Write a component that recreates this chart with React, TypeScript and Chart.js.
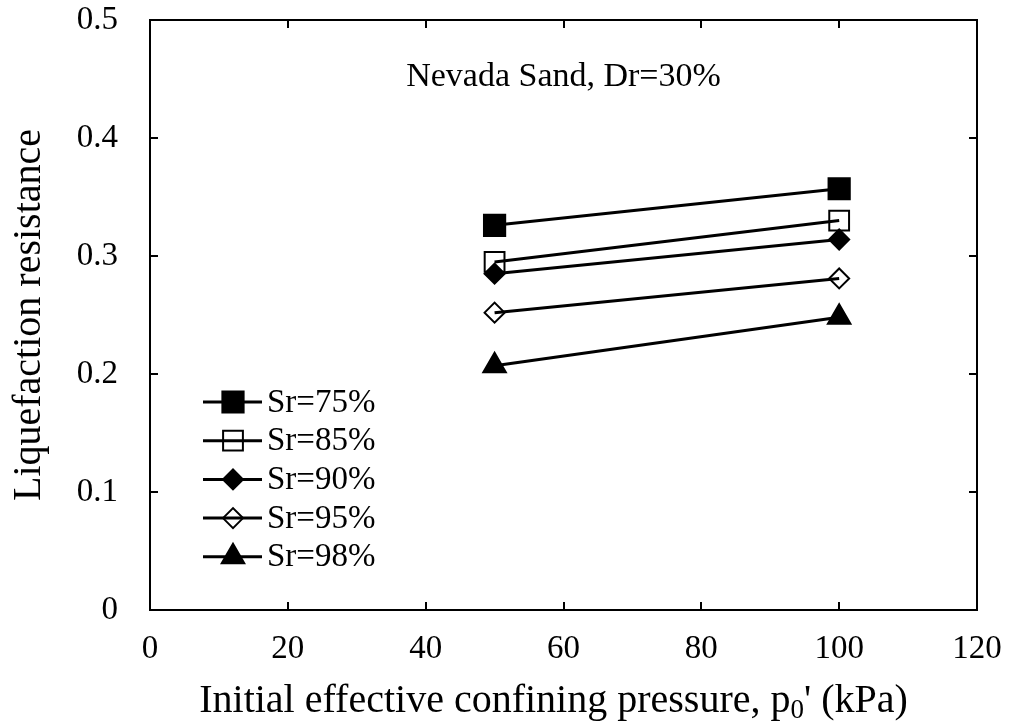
import React, { useEffect, useRef } from 'react';
import { Chart, registerables } from 'chart.js';
import { drawPoint } from 'chart.js/helpers';

Chart.register(...registerables);

// ---- data ----
const pressures = [50, 100];
const seriesLabels = ['Sr=75%', 'Sr=85%', 'Sr=90%', 'Sr=95%', 'Sr=98%'];
const sr75 = [0.326, 0.357];
const sr85 = [0.295, 0.33];
const sr90 = [0.285, 0.314];
const sr95 = [0.252, 0.281];
const sr98 = [0.207, 0.248];
const seriesValues = [sr75, sr85, sr90, sr95, sr98];
const xTickValues = [0, 20, 40, 60, 80, 100, 120];
const yTickValues = [0, 0.1, 0.2, 0.3, 0.4, 0.5];
const xTitleMain = 'Initial effective confining pressure, p';
const xTitleSub = '0';
const xTitleEnd = "' (kPa)";
const yTitle = 'Liquefaction resistance';
const annotationText = 'Nevada Sand, Dr=30%';

// ---- styles ----
const FONT = "'Liberation Serif', 'Times New Roman', serif";
const markerStyles = ['rect', 'rect', 'rectRot', 'rectRot', 'triangle'];
const markerFilled = [true, false, true, false, true];
const markerRadius = [15, 14, 10, 10, 13];

const framePlugin = {
  id: 'framePlugin',
  afterDraw(chart: any) {
    const { ctx, chartArea } = chart;
    const { left, right, top, bottom } = chartArea;
    const xs = chart.scales.x;
    const ys = chart.scales.y;
    ctx.save();
    ctx.strokeStyle = '#000';
    ctx.lineWidth = 2;
    ctx.strokeRect(left, top, right - left, bottom - top);
    const tl = 8;
    ctx.beginPath();
    ys.ticks.forEach((t: any) => {
      const py = Math.round(ys.getPixelForValue(t.value));
      ctx.moveTo(left, py);
      ctx.lineTo(left + tl, py);
      ctx.moveTo(right, py);
      ctx.lineTo(right - tl, py);
    });
    xs.ticks.forEach((t: any) => {
      const px = Math.round(xs.getPixelForValue(t.value));
      ctx.moveTo(px, bottom);
      ctx.lineTo(px, bottom - tl);
      ctx.moveTo(px, top);
      ctx.lineTo(px, top + tl);
    });
    ctx.stroke();

    // annotation
    ctx.fillStyle = '#000';
    ctx.font = `34px ${FONT}`;
    ctx.textAlign = 'center';
    ctx.textBaseline = 'alphabetic';
    ctx.fillText(annotationText, (left + right) / 2, top + 66);

    // x axis title with subscript
    const mainFont = `40px ${FONT}`;
    const subFont = `27px ${FONT}`;
    ctx.font = mainFont;
    const w1 = ctx.measureText(xTitleMain).width;
    const w3 = ctx.measureText(xTitleEnd).width;
    ctx.font = subFont;
    const w2 = ctx.measureText(xTitleSub).width;
    const total = w1 + w2 + w3;
    const cx = (left + right) / 2 - 10;
    let x = cx - total / 2;
    const base = bottom + 102;
    ctx.textAlign = 'left';
    ctx.textBaseline = 'alphabetic';
    ctx.font = mainFont;
    ctx.fillText(xTitleMain, x, base);
    x += w1;
    ctx.font = subFont;
    ctx.fillText(xTitleSub, x, base + 6);
    x += w2;
    ctx.font = mainFont;
    ctx.fillText(xTitleEnd, x, base);

    // legend
    const lx0 = left + 53;
    const lx1 = left + 112;
    const mx = left + 83;
    const ty = top + 382;
    const gap = 38.7;
    seriesLabels.forEach((lab, i) => {
      const y = ty + i * gap;
      ctx.strokeStyle = '#000';
      ctx.lineWidth = 3;
      ctx.beginPath();
      ctx.moveTo(lx0, y);
      ctx.lineTo(lx1, y);
      ctx.stroke();
      ctx.lineWidth = 2;
      ctx.fillStyle = markerFilled[i] ? '#000' : 'rgba(255,255,255,0)';
      drawPoint(ctx, { pointStyle: markerStyles[i], rotation: 0, radius: markerRadius[i], borderWidth: 2 } as any, mx, y);
      ctx.fillStyle = '#000';
      ctx.font = `33px ${FONT}`;
      ctx.textAlign = 'left';
      ctx.textBaseline = 'middle';
      ctx.fillText(lab, lx1 + 5, y + 1);
    });
    ctx.restore();
  },
};

const zeroPad = (s: any) => {
  s.paddingTop = 0;
  s.paddingBottom = 0;
  s.paddingLeft = 0;
  s.paddingRight = 0;
};

export default function App() {
  const ref = useRef<HTMLCanvasElement | null>(null);
  useEffect(() => {
    if (!ref.current) return;
    const datasets = seriesLabels.map((lab, i) => ({
      label: lab,
      data: pressures.map((p, j) => ({ x: p, y: seriesValues[i][j] })),
      borderColor: '#000',
      borderWidth: 3,
      backgroundColor: '#000',
      pointStyle: markerStyles[i],
      pointRadius: markerRadius[i],
      pointBorderWidth: 2,
      pointBorderColor: '#000',
      pointBackgroundColor: markerFilled[i] ? '#000' : 'rgba(255,255,255,0)',
      showLine: true,
      tension: 0,
    }));
    const chart = new Chart(ref.current, {
      type: 'scatter',
      data: { datasets },
      plugins: [framePlugin],
      options: {
        animation: false,
        responsive: false,
        layout: { padding: { top: 20, right: 33, left: 0, bottom: 0 } },
        plugins: { legend: { display: false }, tooltip: { enabled: false } },
        scales: {
          x: {
            type: 'linear',
            min: 0,
            max: 120,
            afterBuildTicks: (s: any) => { s.ticks = xTickValues.map((v) => ({ value: v })); },
            afterFit: (s: any) => { s.height = 115; zeroPad(s); },
            grid: { display: false, drawTicks: false },
            border: { display: false },
            ticks: { color: '#000', font: { family: FONT, size: 33 }, padding: 20, maxRotation: 0 },
            title: { display: false },
          },
          y: {
            type: 'linear',
            min: 0,
            max: 0.5,
            afterBuildTicks: (s: any) => { s.ticks = yTickValues.map((v) => ({ value: v })); },
            afterFit: (s: any) => { s.width = 150; zeroPad(s); },
            grid: { display: false, drawTicks: false },
            border: { display: false },
            ticks: {
              color: '#000',
              font: { family: FONT, size: 33 },
              padding: 32,
              callback: (v: any) => (v === 0 ? '0' : Number(v).toFixed(1)),
            },
            title: { display: true, text: yTitle, color: '#000', font: { family: FONT, size: 40 }, padding: { top: 5, bottom: 0 } },
          },
        },
      },
    } as any);
    return () => chart.destroy();
  }, []);
  return (
    <div style={{ position: 'absolute', left: 0, top: 0, width: 1010, height: 725, background: '#fff' }}>
      <canvas ref={ref} width={1010} height={725} style={{ display: 'block' }} />
    </div>
  );
}
